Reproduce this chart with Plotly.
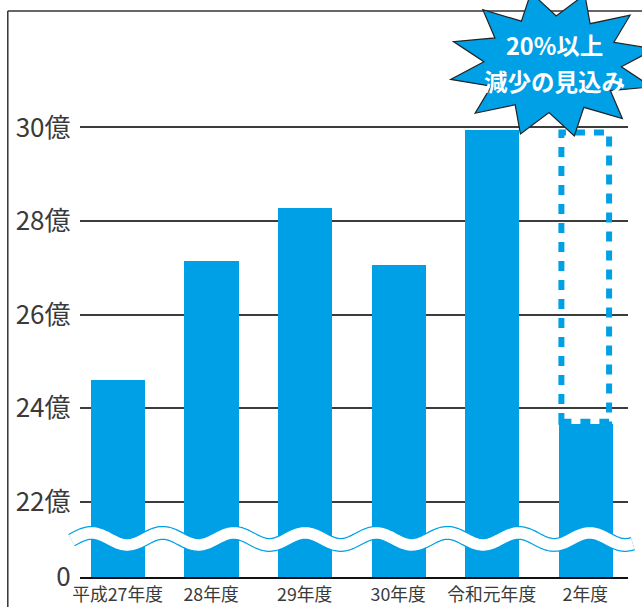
import numpy as np
import plotly.graph_objects as go

# ---- data (億円) ----
categories = ["平成27年度", "28年度", "29年度", "30年度", "令和元年度", "2年度"]
values = [24.6, 27.15, 28.28, 27.06, 29.95, 23.67]
projected_top = 29.95          # dashed outline: previous year's level
y_tick_values = [0, 22, 24, 26, 28, 30]
y_tick_labels = ["0", "22億", "24億", "26億", "28億", "30億"]
badge_lines = ["20%以上", "減少の見込み"]

# figure size (the page body margin is removed below)
W, H = 650, 626
# measured mapping of page pixels to the captured picture
SX, OX, SY, OY = 0.987, 7.6, 0.971, 0.0

BLUE = "#00A0E6"
FONT = "Noto Sans CJK JP"
TXT = "#3a3a3a"

# broken axis: the 0 baseline is drawn just below 22億
PX_PER_UNIT = 46.625
FLOOR = 22 - 75 / PX_PER_UNIT
TOP = 22 + (500 - 11) / PX_PER_UNIT


def disp(v):
    return v if v > 0 else FLOOR


def px(x):   # picture pixel -> paper
    return ((x - OX) / SX) / W


def py(y):
    return 1 - ((y - OY) / SY) / H


fig = go.Figure()
fig.add_trace(go.Bar(
    x=list(range(len(categories))),
    y=[v - FLOOR for v in values],
    base=FLOOR,
    width=0.58,
    marker=dict(color=BLUE, line=dict(width=0)),
    hoverinfo="skip",
))

shapes = []
# frame
shapes.append(dict(type="line", xref="paper", yref="paper", x0=0.8 / W, x1=0.8 / W,
                   y0=py(11), y1=-0.05, line=dict(color="#333", width=1.5), layer="above"))
shapes.append(dict(type="line", xref="paper", yref="paper", x0=0.8 / W, x1=1.05,
                   y0=py(11), y1=py(11), line=dict(color="#333", width=1.5), layer="above"))

# wave (axis break)
xs = np.linspace(72, 632, 400)
ys = 537 - 6 * np.cos(2 * np.pi * (xs - 92) / 71)
wpath = "M " + " L ".join(f"{px(a):.5f},{py(b):.5f}" for a, b in zip(xs, ys))
shapes.append(dict(type="path", xref="paper", yref="paper", path=wpath,
                   line=dict(color=BLUE, width=14), layer="above"))
shapes.append(dict(type="path", xref="paper", yref="paper", path=wpath,
                   line=dict(color="white", width=11.5), layer="above"))

# dashed outline for the projected shortfall
i_last = len(categories) - 1
shapes.append(dict(type="rect", xref="x", yref="y",
                   x0=i_last - 0.29 + 0.035, x1=i_last + 0.29 - 0.035,
                   y0=values[-1] + 0.04, y1=projected_top - 0.06,
                   line=dict(color=BLUE, width=6, dash="10px,9px"),
                   fillcolor="rgba(0,0,0,0)", layer="above"))

# starburst badge
cx, cy, rx, ry = 552, 64, 104, 73
n = 12
pts = []
for k in range(2 * n):
    t = np.deg2rad(132 + 15 * k)
    s = 1.0 if k % 2 == 0 else 0.66
    pts.append((cx + s * rx * np.cos(t), cy - s * ry * np.sin(t)))
spath = "M " + " L ".join(f"{px(a):.5f},{py(b):.5f}" for a, b in pts) + " Z"
shapes.append(dict(type="path", xref="paper", yref="paper", path=spath,
                   fillcolor=BLUE, line=dict(color="#222", width=1.2), layer="above"))

annotations = []
for line, anchor in zip(badge_lines, ["bottom", "top"]):
    annotations.append(dict(text=f"<b>{line}</b>", xref="paper", yref="paper",
                            x=px(554), y=py(62.5), showarrow=False,
                            font=dict(family=FONT, size=23.5, color="white"),
                            xanchor="center", yanchor=anchor, borderpad=0))

fig.update_layout(
    width=W, height=H,
    margin=dict(l=0, r=0, t=0, b=0, pad=0),
    paper_bgcolor="white", plot_bgcolor="white",
    showlegend=False,
    bargap=0,
    shapes=shapes,
    font=dict(family=FONT, color=TXT),
    annotations=annotations,
    xaxis=dict(domain=[px(80), px(627)], range=[-0.407, 5.455],
               tickmode="array", tickvals=list(range(len(categories))), ticktext=categories,
               tickfont=dict(size=17.8, color=TXT, family=FONT),
               showgrid=False, zeroline=False, showline=True,
               linecolor="#111", linewidth=1.5, ticks="", ticklabelstandoff=1),
    yaxis=dict(domain=[py(575), py(11)], range=[FLOOR, TOP],
               tickmode="array", tickvals=[disp(v) for v in y_tick_values], ticktext=y_tick_labels,
               tickfont=dict(size=26, color=TXT, family=FONT),
               showgrid=True, gridcolor="#3c3c3c", gridwidth=1.5,
               zeroline=False, showline=False, ticks="", ticklabelstandoff=8),
)

fig.write_html("out.html", config={"displayModeBar": False},
               post_script="document.body.style.margin='0';document.body.style.overflow='hidden';")
